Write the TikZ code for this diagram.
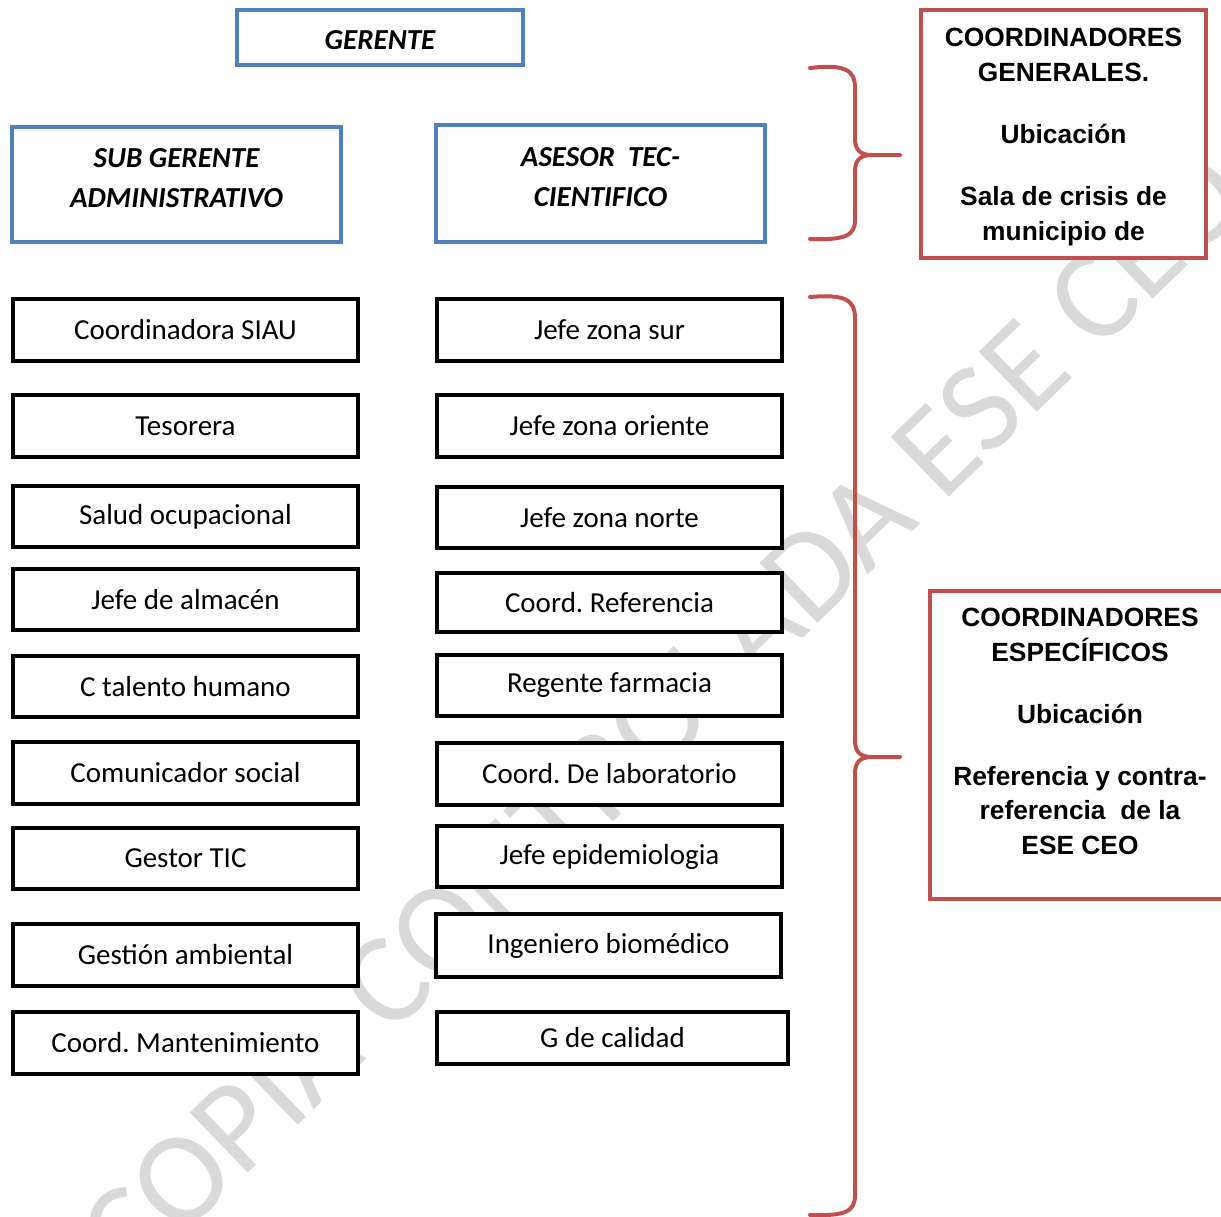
\documentclass[tikz,border=0pt]{standalone}
\usepackage{fontspec}
\setmainfont{Carlito}
\newfontfamily\arialfont{Liberation Sans}
\frenchspacing

\definecolor{azulJefe}{HTML}{4F81BD}
\definecolor{rojoCoord}{HTML}{C0504D}
\newcommand{\pxu}{0.02cm}

\tikzset{
  caja/.style={draw=black, fill=white, line width=2.27pt, inner sep=0pt,
    font=\fontsize{16.5}{20}\selectfont},
  cajaAzul/.style={draw=azulJefe, fill=white, line width=2.27pt, inner sep=0pt, align=center,
    font=\fontsize{16.5}{22.7}\selectfont\bfseries\itshape},
  textoAzul/.style={align=center, font=\fontsize{16.5}{22.7}\selectfont\bfseries\itshape},
  cajaRoja/.style={draw=rojoCoord, fill=white, line width=2.27pt, inner sep=0pt},
  textoRojo/.style={align=center, font=\arialfont\bfseries\fontsize{15}{19.8}\selectfont},
  llave/.style={draw=rojoCoord, line width=2.27pt, line cap=round, line join=round},
}

\begin{document}
\begin{tikzpicture}[x=\pxu, y=-\pxu]
  \useasboundingbox (0,0) rectangle (1221,1217);
  \clip (0,0) rectangle (1221,1217);

  % Marca de agua
  \node[rotate=44, anchor=base, text=black!15, font=\fontsize{74}{74}\selectfont]
    (marca) at (692,745) {COPIA CONTROLADA ESE CEO};

  % Jefes
  \node[cajaAzul, minimum width=286*\pxu, minimum height=55*\pxu] (gerente) at (380,37.5) {};
  \node[textoAzul] (txtGer) at (380,40.5) {GERENTE};
  \node[cajaAzul, minimum width=329*\pxu, minimum height=115*\pxu] (subgerente) at (176.5,184.5) {};
  \node[textoAzul] (txtSub) at (176.5,178.5) {SUB GERENTE\\ ADMINISTRATIVO};
  \node[cajaAzul, minimum width=329*\pxu, minimum height=117*\pxu] (asesor) at (600.5,183.5) {};
  \node[textoAzul] (txtAse) at (600.5,177.5) {ASESOR\ \ TEC-\\ CIENTIFICO};

  % Columna administrativa
  \foreach \i/\yt/\yb/\txt in {1/297/363/Coordinadora SIAU, 2/393/459/Tesorera,
      3/484/549/Salud ocupacional, 4/567/632/Jefe de almacén, 5/654/719/C talento humano,
      6/740/806/Comunicador social, 7/826/891/Gestor TIC, 8/922/988/Gestión ambiental,
      9/1010/1076/Coord. Mantenimiento}
    \node[caja, minimum width=345*\pxu, minimum height={(\yb-\yt-4)*\pxu}]
      (adm\i) at (185.5,{(\yt+\yb)/2}) {\txt};

  % Columna tecnico-cientifica
  \foreach \i/\xl/\xr/\yt/\yb/\txt in {1/435/784/297/363/Jefe zona sur,
      2/435/784/393/459/Jefe zona oriente, 3/435/784/485/550/Jefe zona norte,
      4/435/784/571/634/Coord. Referencia, 5/435/784/653/718/Regente farmacia,
      6/435/784/741/807/Coord. De laboratorio, 7/435/784/824/889/Jefe epidemiologia,
      8/434/783/912/979/Ingeniero biomédico, 9/435/790/1010/1066/G de calidad}
    \node[caja, minimum width={(\xr-\xl-4)*\pxu}, minimum height={(\yb-\yt-4)*\pxu}]
      (tec\i) at ({(\xl+\xr)/2},{(\yt+\yb)/2}) {\txt};

  % Llaves
  \draw[llave] (810,68) .. controls (845,64) and (855,70) .. (855,88) -- (855,138)
    .. controls (855,150) and (860,155) .. (872,155) -- (900,155);
  \draw[llave] (872,155) .. controls (860,155) and (855,160) .. (855,172) -- (855,220)
    .. controls (855,236) and (845,240) .. (810,239);
  \draw[llave] (810,297) .. controls (845,294) and (855,300) .. (855,318) -- (855,740)
    .. controls (855,752) and (860,757) .. (872,757) -- (900,757);
  \draw[llave] (872,757) .. controls (860,757) and (855,762) .. (855,774) -- (855,1195)
    .. controls (855,1212) and (845,1216) .. (810,1215);

  % Coordinadores
  \node[cajaRoja, minimum width=285*\pxu, minimum height=248*\pxu] (coorGen) at (1063.5,134) {};
  \node[textoRojo] (txtGen) at (1063.5,137)
    {COORDINADORES\\ GENERALES.\\[15.4pt] Ubicación\\[15.4pt] Sala de crisis de\\ municipio de};
  \node[cajaRoja, minimum width=300*\pxu, minimum height=308*\pxu] (coorEsp) at (1080,745) {};
  \node[textoRojo] (txtEsp) at (1080,731.5)
    {COORDINADORES\\ ESPECÍFICOS\\[15.4pt] Ubicación\\[15.4pt] Referencia y contra-\\
     referencia\ \ de la\\ ESE CEO};
\end{tikzpicture}
\end{document}
